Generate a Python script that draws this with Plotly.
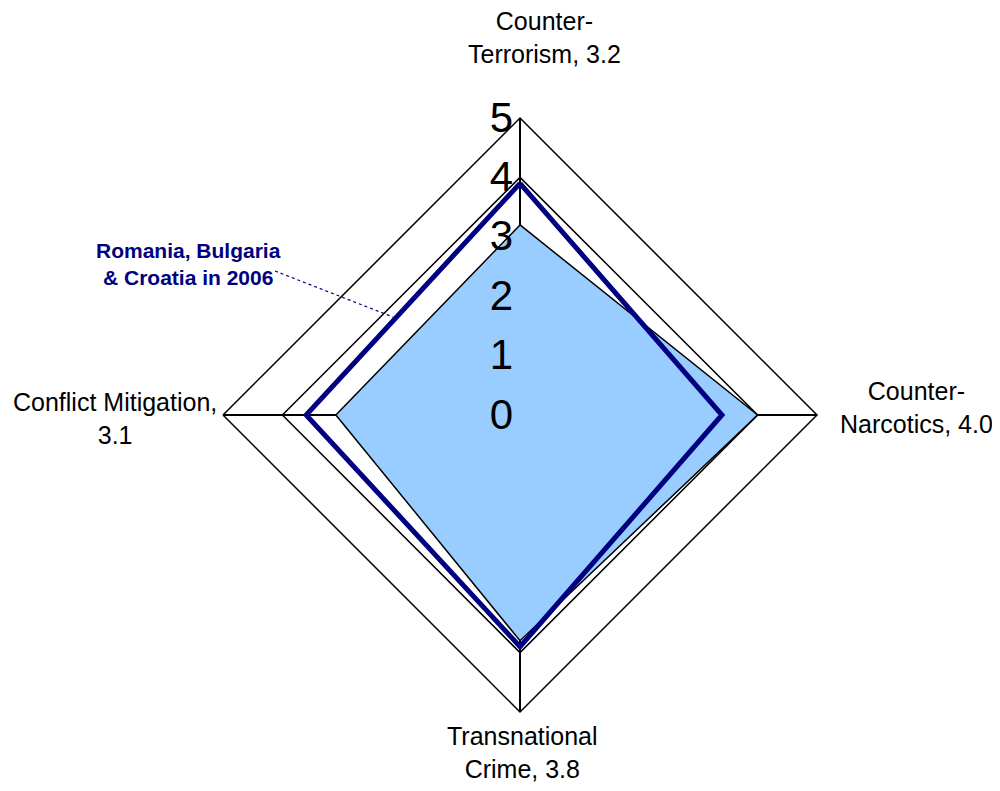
import plotly.graph_objects as go

categories = ["Counter-<br>Terrorism", "Counter-<br>Narcotics", "Transnational<br>Crime", "Conflict Mitigation,<br>"]
current = [3.2, 4.0, 3.8, 3.1]
region_2006 = [3.9, 3.4, 3.9, 3.6]
reference_ring = [4, 4, 4, 4]
radial_ticks = [0, 1, 2, 3, 4, 5]

theta = [c.replace("<br>", " ") for c in categories]


def closed(vals):
    return vals + vals[:1]


fig = go.Figure()
fig.add_trace(go.Scatterpolar(
    r=closed(current), theta=closed(theta), mode="lines", fill="toself",
    fillcolor="#99CCFF", line=dict(color="black", width=1.5), hoverinfo="skip"))
fig.add_trace(go.Scatterpolar(
    r=closed(reference_ring), theta=closed(theta), mode="lines",
    line=dict(color="black", width=1.5), hoverinfo="skip"))
fig.add_trace(go.Scatterpolar(
    r=closed(region_2006), theta=closed(theta), mode="lines",
    line=dict(color="#000080", width=5), hoverinfo="skip"))

# page has an 8px body margin, so the figure is sized to fit inside it
W, H = 984, 775
OFF = 8


def px(x):
    return (x - OFF) / W


def py(y):
    return (H - (y - OFF)) / H


cx, cy, rad = 520, 415, 297
fig.update_layout(
    width=W, height=H, showlegend=False,
    paper_bgcolor="white", plot_bgcolor="white",
    margin=dict(l=0, r=0, t=0, b=0),
    font=dict(family="Liberation Sans, Arial, sans-serif", color="black"),
    polar=dict(
        domain=dict(x=[px(cx - rad), px(cx + rad)],
                    y=[py(cy + rad), py(cy - rad)]),
        gridshape="linear", bgcolor="white",
        radialaxis=dict(range=[0, 5], tickvals=radial_ticks, angle=90,
                        tickangle=90, ticksuffix="\u00a0",
                        showgrid=False, showline=False, ticks="",
                        tickfont=dict(size=42, color="black"),
                        side="counterclockwise"),
        angularaxis=dict(direction="clockwise", rotation=90,
                         showticklabels=False, ticks="",
                         showline=True, linecolor="black", linewidth=1.5,
                         gridcolor="black", gridwidth=1.5),
    ),
)

# category labels with the filled series' values
label_pos = [(544, 37), (916, 407), (522, 752), (115, 418)]
for (x, y), name, v in zip(label_pos, categories, current):
    if name.endswith("<br>"):
        txt = f"{name[:-4]}<br>{v:.1f}"
    else:
        txt = f"{name}, {v:.1f}"
    fig.add_annotation(x=px(x), y=py(y), xref="paper", yref="paper", text=txt,
                       showarrow=False, align="center", font=dict(size=25),
                       xanchor="center", yanchor="middle")

fig.add_annotation(x=px(188), y=py(264), xref="paper", yref="paper",
                   text="<b>Romania, Bulgaria<br>&amp; Croatia in 2006</b>",
                   showarrow=False, align="center", xanchor="center", yanchor="middle",
                   font=dict(size=21, color="#000080"))
fig.add_shape(type="line", xref="paper", yref="paper",
              x0=px(275), y0=py(271), x1=px(393), y1=py(317),
              line=dict(color="#000080", width=1.2, dash="dot"))

fig.write_html("out.html")
